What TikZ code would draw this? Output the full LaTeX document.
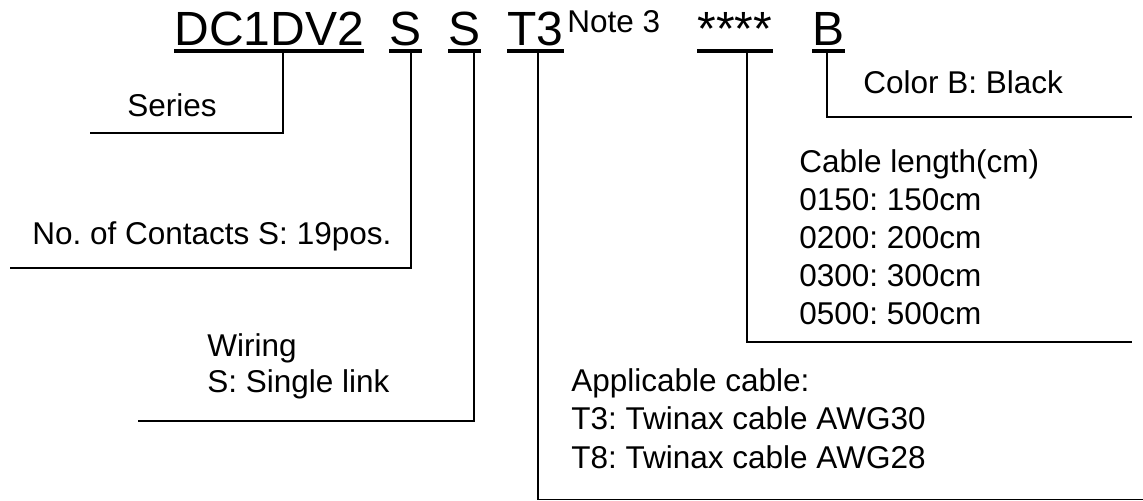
\documentclass[tikz,border=0pt]{standalone}
\usepackage{fontspec}
\setmainfont{Liberation Sans}
\frenchspacing
\tikzset{
	code/.style={anchor=base west, inner xsep=0pt, inner ysep=2.5pt, text depth=0pt, font=\fontsize{24}{28}\selectfont},
	uline/.style={draw=black, line width=2pt},
	lead/.style={draw=black, line width=0.75pt},
	lbl/.style={anchor=base west, inner sep=0pt, align=left, font=\fontsize{15.75}{19.1}\selectfont},
}
\begin{document}
\begin{tikzpicture}[x=0.5pt, y=-0.5pt]
	\useasboundingbox (0,0) rectangle (1143,501);
	% part number
	\node[code] (dc) at (174,46) {DC1DV2};
	\node[code] (cnt) at (389,46) {S};
	\node[code] (wir) at (448,46) {S};
	\node[code] (cab) at (507,46) {T3};
	\node[lbl] (note) at (567,33) {Note 3};
	\node[code] (len) at (697,46) {****};
	\node[code] (col) at (812,46) {B};
	\foreach \p in {dc,cnt,wir,cab,len,col}
		\draw[uline] (\p.south west) -- (\p.south east);
	% labels (multi-line ones sit on their last baseline)
	\node[lbl] (series) at (127,117) {Series};
	\node[lbl] (contacts) at (32,245) {No. of Contacts S: 19pos.};
	\node[lbl, font=\fontsize{15.75}{18.2}\selectfont] (wiring) at (207,393) {Wiring\\S: Single link};
	\node[lbl] (cable) at (571,468) {Applicable cable:\\T3: Twinax cable AWG30\\T8: Twinax cable AWG28};
	\node[lbl] (length) at (799,325) {Cable length(cm)\\0150: 150cm\\0200: 200cm\\0300: 300cm\\0500: 500cm};
	\node[lbl] (color) at (863,94) {Color B: Black};
	% leader lines
	\coordinate (dcK) at (283,133);   \coordinate (dcE) at (90,133);
	\coordinate (cntK) at (411,268);  \coordinate (cntE) at (10,268);
	\coordinate (wirK) at (474,421);  \coordinate (wirE) at (138,421);
	\coordinate (cabK) at (538,499.5); \coordinate (cabE) at (1143,499.5);
	\coordinate (lenK) at (747,342);  \coordinate (lenE) at (1132,342);
	\coordinate (colK) at (827,117);  \coordinate (colE) at (1132,117);
	\foreach \p in {dc,cnt,wir,cab,len,col}
		\draw[lead] (\p K |- \p.south) -- (\p K) -- (\p E);
\end{tikzpicture}
\end{document}
